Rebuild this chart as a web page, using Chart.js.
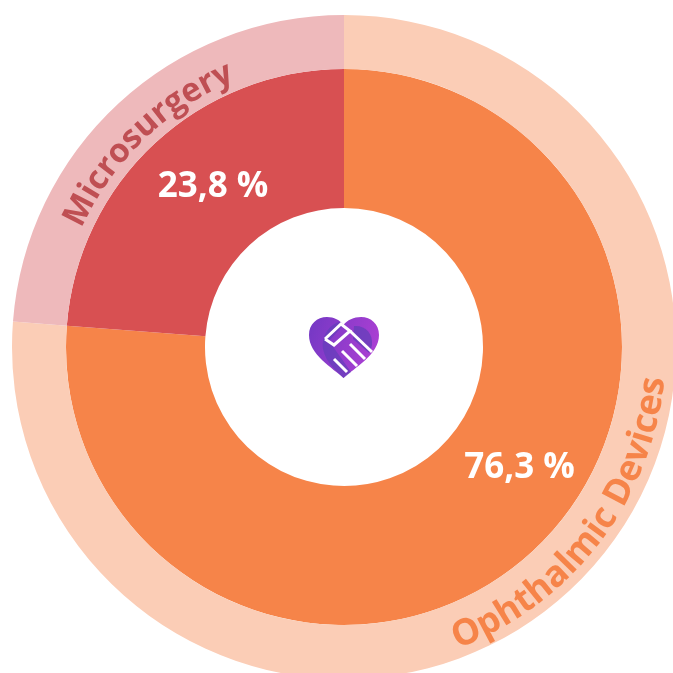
<!DOCTYPE html>
<html>
<head>
<meta charset="utf-8">
<style>
  html, body { margin: 0; padding: 0; background: #fff; width: 673px; height: 673px; overflow: hidden; }
  #wrap { position: relative; width: 673px; height: 673px; overflow: hidden; }
  #shareChart { position: absolute; left: 0; top: 0; }
  #logo { position: absolute; left: 309px; top: 317px; }
</style>
</head>
<body>
<div id="wrap">
  <canvas id="shareChart" width="688" height="694" style="width:688px;height:694px"></canvas>
  <svg id="logo" width="70" height="62" viewBox="0 0 70 62">
    <defs>
      <linearGradient id="heartFill" x1="0" y1="0" x2="1" y2="0.3">
        <stop offset="0" stop-color="#7338c4"/>
        <stop offset="1" stop-color="#a93fd2"/>
      </linearGradient>
    </defs>
    <path d="M34.5 61 C24 51 0 38 0 18 C0 7 8 0 18 0 C25 0 31 3 34.5 8 C38 3 45 0 52 0 C62 0 70 7 70 18 C70 38 45 51 34.5 61 Z" fill="url(#heartFill)"/>
    <path d="M34.5 61 C30 56 17 47 14 32 C12 18 22 6 31 5 L34.5 8 L20 24 L42 55 Z" fill="#5f3fb8" opacity="0.65"/>
    <path d="M45 9 C56 8 64 16 63 28 C62 32 61 34 60 36 L44 22 Z" fill="#5f3fb8" opacity="0.7"/>
    <g fill="none" stroke="#fff" stroke-width="3">
      <path d="M16 22 L32 7 L41 14 L25 28 L16 22"/>
      <path d="M41 14 L63 35"/>
      <path d="M41 27 L56 42"/>
      <path d="M33 34 L48 49"/>
      <path d="M25 42 L38 55"/>
    </g>
  </svg>
</div>

<script src="https://cdn.jsdelivr.net/npm/chart.js@4"></script>
<script>
const categories = ['Ophthalmic Devices', 'Microsurgery'];
const shareValues = [76.3, 23.8];
const shareLabels = ['76,3 %', '23,8 %'];

const solidColors = ['#f68449', '#d85052'];
const paleColors = ['#fbcdb6', '#eeb9bb'];
const nameColors = ['#f68449', '#bf4f53'];

// degrees clockwise from 12 o'clock, the labels don't sit on the arc midpoints
const nameAngles = [127.5, -44];
const nameSizes = [36, 33];
const valueAngles = [123.5, -38.5];

const toRad = d => (d - 90) * Math.PI / 180;

// one glyph at a time along the pale ring
function drawCurved(ctx, text, cx, cy, radius, midDeg, flipped) {
  const widths = [...text].map(c => ctx.measureText(c).width);
  const total = widths.reduce((a, b) => a + b, 0);
  let run = -total / 2;
  [...text].forEach((c, i) => {
    const offset = (run + widths[i] / 2) / radius;
    const a = flipped ? toRad(midDeg) - offset : toRad(midDeg) + offset;
    ctx.save();
    ctx.translate(cx + radius * Math.cos(a), cy + radius * Math.sin(a));
    ctx.rotate(flipped ? a - Math.PI / 2 : a + Math.PI / 2);
    ctx.fillText(c, 0, 0);
    ctx.restore();
    run += widths[i];
  });
}

const ringLabels = {
  id: 'ringLabels',
  afterDatasetsDraw(chart) {
    const ctx = chart.ctx;
    const inner = chart.getDatasetMeta(1).data[0];
    const outer = chart.getDatasetMeta(0).data[0];
    const cx = inner.x, cy = inner.y;
    const valueR = (inner.innerRadius + inner.outerRadius) / 2 + 2;

    ctx.save();
    ctx.textAlign = 'center';
    ctx.textBaseline = 'alphabetic';
    categories.forEach((name, i) => {
      ctx.font = `700 ${nameSizes[i]}px "Open Sans"`;
      ctx.fillStyle = nameColors[i];
      const flipped = nameAngles[i] > 90;
      const r = flipped ? outer.outerRadius - 10 : outer.innerRadius + 10;
      drawCurved(ctx, name, cx, cy, r, nameAngles[i], flipped);
    });

    ctx.font = '700 35px "Open Sans"';
    ctx.textBaseline = 'middle';
    ctx.fillStyle = '#fff';
    shareLabels.forEach((label, i) => {
      const a = toRad(valueAngles[i]);
      ctx.fillText(label, cx + valueR * Math.cos(a), cy + valueR * Math.sin(a) + 5);
    });
    ctx.restore();
  }
};

new Chart(document.getElementById('shareChart').getContext('2d'), {
  type: 'doughnut',
  data: {
    labels: categories,
    datasets: [
      { data: shareValues, backgroundColor: paleColors, borderWidth: 0, weight: 54 },
      { data: shareValues, backgroundColor: solidColors, borderWidth: 0, weight: 139 }
    ]
  },
  options: {
    responsive: false,
    animation: false,
    radius: 332,
    cutout: '41.87%',
    plugins: {
      legend: { display: false },
      tooltip: { enabled: false }
    }
  },
  plugins: [ringLabels]
});
</script>
</body>
</html>
